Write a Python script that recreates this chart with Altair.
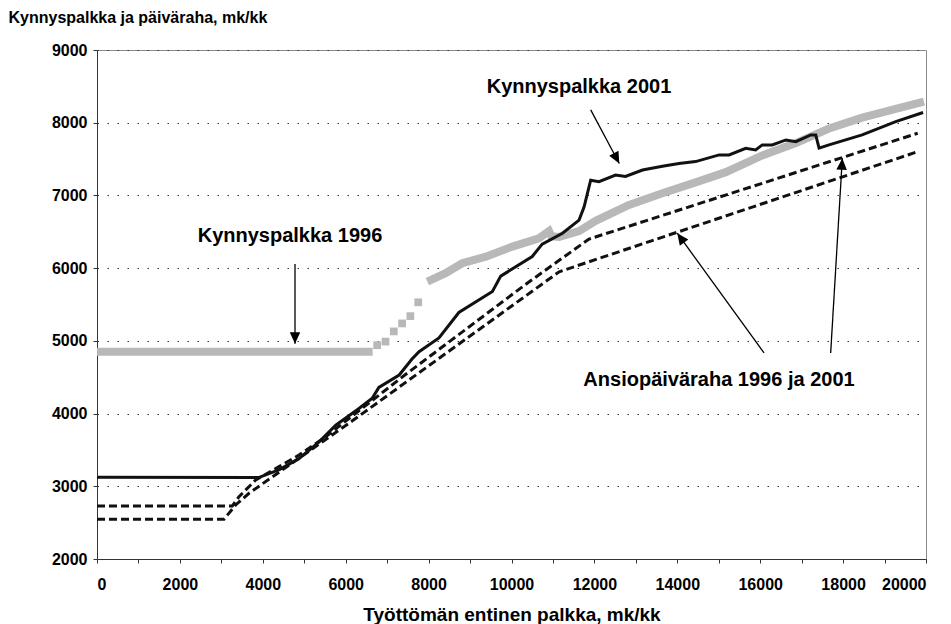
import math
import altair as alt
import pandas as pd

# ---------------- data ----------------
X_TICKS = list(range(0, 20001, 1000))
Y_TICKS = list(range(2000, 9001, 1000))

# Kynnyspalkka 2001 (black solid)
K2001_X = [0, 3900, 4400, 4870, 5360, 5760, 6320, 6640, 6800, 7290, 7600, 7770, 8250, 8730,
           9540, 9740, 10500, 10740, 11230, 11630, 11750, 11910, 12110, 12510, 12750, 13160,
           13640, 14040, 14440, 15010, 15250, 15650, 15890, 16050, 16290, 16620, 16860, 17220,
           17340, 17420, 17660, 18460, 19270, 19930]
K2001_Y = [3125, 3120, 3230, 3380, 3610, 3840, 4070, 4210, 4360, 4530, 4750, 4850, 5040, 5390,
           5680, 5890, 6160, 6330, 6480, 6660, 6840, 7210, 7190, 7280, 7260, 7350,
           7400, 7440, 7465, 7557, 7557, 7649, 7626, 7695, 7695, 7763, 7740, 7832,
           7832, 7650, 7695, 7832, 8015, 8140]

# Kynnyspalkka 1996 (grey band) - flat part, separate squares, rising band
K1996_FLAT_X = [0, 6650]
K1996_FLAT_Y = [4850, 4850]
K1996_STEP_X = [6760, 6960, 7160, 7360, 7560, 7750]
K1996_STEP_Y = [4940, 4990, 5130, 5240, 5340, 5530]
K1996_RISE_X = [7970, 8410, 8810, 9380, 10020, 10660, 10905, 10960, 11150, 11630, 12030, 12835,
                13640, 14440, 15170, 16050, 16860, 17660, 18460, 19270, 19950]
K1996_RISE_Y = [5815, 5930, 6067, 6158, 6296, 6411, 6510, 6440, 6430, 6510, 6650, 6870,
                7030, 7180, 7320, 7550, 7720, 7920, 8070, 8190, 8290]

# Ansiopäiväraha 2001 (upper dashed)
A2001_X = [0, 3265, 3426, 3829, 4391, 4873, 5517, 7450, 10420, 11870, 19800]
A2001_Y = [2729, 2729, 2857, 3087, 3270, 3430, 3682, 4540, 5810, 6400, 7855]

# Ansiopäiväraha 1996 (lower dashed)
A1996_X = [0, 3064, 3346, 3667, 6160, 8813, 11150, 19800]
A1996_Y = [2546, 2546, 2743, 2904, 3900, 4990, 5950, 7602]

# Annotations (data coordinates)
LABEL_TEXT = ["Kynnyspalkka 1996", "Kynnyspalkka 2001", "Ansiopäiväraha 1996 ja 2001"]
LABEL_X = [4656, 11628, 15006]
LABEL_Y = [6443, 8492, 4462]

ARROW_TAIL_X = [4777, 11911, 16092, 17700]
ARROW_TAIL_Y = [6058, 8176, 4834, 4834]
ARROW_TIP_X = [4777, 12600, 14000, 17981]
ARROW_TIP_Y = [4960, 7440, 6480, 7512]

# ---------------- chart ----------------
W, H = 829, 509
X_DOM = [0, 20000]
Y_DOM = [2000, 9000]
FONT = "Liberation Sans"

def frame(xs, ys):
    return pd.DataFrame({"x": xs, "y": ys})

xs = alt.Scale(domain=X_DOM, nice=False, zero=False)
ys = alt.Scale(domain=Y_DOM, nice=False, zero=False)

x_axis = alt.Axis(
    values=X_TICKS, format="d",
    labelExpr="datum.value % 2000 == 0 ? datum.label : ''",
    title="Työttömän entinen palkka, mk/kk",
    titleFontSize=19, titleFont=FONT, titleFontWeight="bold", titleColor="#000",
    titleBaseline="alphabetic", titleY=61,
    grid=False, tickSize=4, labelPadding=13,
)
y_axis = alt.Axis(
    values=Y_TICKS, format="d",
    title="Kynnyspalkka ja päiväraha, mk/kk",
    titleAngle=0, titleAlign="left", titleBaseline="alphabetic",
    titleX=-89, titleY=-28,
    titleFontSize=16, titleFont=FONT, titleFontWeight="bold", titleColor="#000",
    grid=True, gridDash=[1.5, 8.5], gridColor="#333", gridWidth=1.2,
    tickSize=4, labelPadding=6,
)

def X():
    return alt.X("x:Q", scale=xs, axis=x_axis)

def Y():
    return alt.Y("y:Q", scale=ys, axis=y_axis)

GREY = "#b8b8b8"

grey_flat = alt.Chart(frame(K1996_FLAT_X, K1996_FLAT_Y)).mark_line(
    color=GREY, strokeWidth=8, strokeCap="butt").encode(x=X(), y=Y())
grey_steps = alt.Chart(frame(K1996_STEP_X, K1996_STEP_Y)).mark_square(
    color=GREY, size=60, opacity=1).encode(x=X(), y=Y())
grey_rise = alt.Chart(frame(K1996_RISE_X, K1996_RISE_Y)).mark_line(
    color=GREY, strokeWidth=8, strokeCap="butt").encode(x=X(), y=Y())

dash_2001 = alt.Chart(frame(A2001_X, A2001_Y)).mark_line(
    color="#111", strokeWidth=3, strokeDash=[8, 4]).encode(x=X(), y=Y())
dash_1996 = alt.Chart(frame(A1996_X, A1996_Y)).mark_line(
    color="#111", strokeWidth=3, strokeDash=[8, 4]).encode(x=X(), y=Y())

black_2001 = alt.Chart(frame(K2001_X, K2001_Y)).mark_line(
    color="#111", strokeWidth=3).encode(x=X(), y=Y())

labels_df = pd.DataFrame({"x": LABEL_X, "y": LABEL_Y, "t": LABEL_TEXT})
labels = alt.Chart(labels_df).mark_text(
    font=FONT, fontSize=20, fontWeight="bold", color="#000", align="center", baseline="middle"
).encode(x=X(), y=Y(), text="t:N")

angles = []
for tx, ty, hx, hy in zip(ARROW_TAIL_X, ARROW_TAIL_Y, ARROW_TIP_X, ARROW_TIP_Y):
    dx = (hx - tx) * W / (X_DOM[1] - X_DOM[0])
    dy = -(hy - ty) * H / (Y_DOM[1] - Y_DOM[0])
    angles.append(math.degrees(math.atan2(dx, -dy)) % 360)

arrows_df = pd.DataFrame({"x": ARROW_TAIL_X, "y": ARROW_TAIL_Y,
                          "x2": ARROW_TIP_X, "y2": ARROW_TIP_Y})
heads_df = pd.DataFrame({"x": ARROW_TIP_X, "y": ARROW_TIP_Y, "ang": angles})

arrow_lines = alt.Chart(arrows_df).mark_rule(color="#000", strokeWidth=1.3).encode(
    x=X(), y=Y(), x2="x2:Q", y2="y2:Q")
arrow_heads = alt.Chart(heads_df).mark_point(
    shape="M0,0L-0.5,1.1L0.5,1.1Z", size=440, filled=True, color="#000", opacity=1, strokeWidth=0
).encode(x=X(), y=Y(), angle=alt.Angle("ang:Q", scale=None))

chart = alt.layer(
    grey_flat, grey_steps, grey_rise, dash_1996, dash_2001, black_2001,
    arrow_lines, arrow_heads, labels
).properties(
    width=W, height=H,
    autosize=alt.AutoSizeParams(type="none"),
    padding={"left": 89, "top": 42, "right": 16, "bottom": 67},
    background="white",
).configure_view(
    stroke="#8a8a8a", strokeWidth=1
).configure_axis(
    domainColor="#333", domainWidth=1, tickColor="#333",
    labelFont=FONT, labelFontSize=16, labelFontWeight="bold", labelColor="#000",
)

chart.save("out.html", embed_options={"renderer": "svg", "actions": False})
